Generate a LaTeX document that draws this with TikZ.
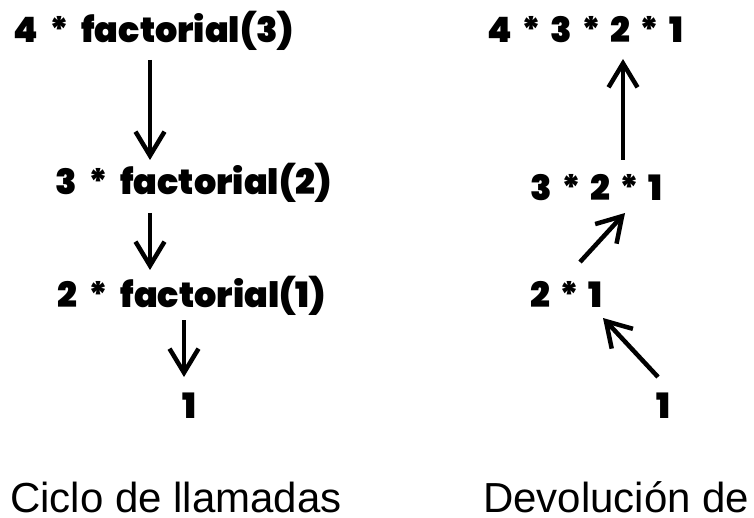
\documentclass[tikz,border=0pt]{standalone}
\usepackage{fontspec}
\setmainfont{Liberation Sans}
\newfontfamily\heavy{Poppins}[UprightFont={* Black}]
\newcommand\hvfont{\heavy\fontsize{35}{35}\selectfont\spaceskip=12pt\relax}
\newcommand\hvwidefont{\heavy\fontsize{35}{35}\selectfont\spaceskip=9.5pt\relax}
\usetikzlibrary{arrows.meta}
\tikzset{
  expr/.style={inner sep=0pt, anchor=base west, font=\hvfont},
  wideexpr/.style={inner sep=0pt, anchor=base west, font=\hvwidefont},
  caption/.style={inner sep=0pt, anchor=base west, text depth=0pt, font=\fontsize{42}{42}\selectfont},
  arr/.style={line width=4.5pt, -{Straight Barb[length=24pt,width=29pt,line width=4.5pt]}}
}
\begin{document}
\begin{tikzpicture}[x=1pt,y=-1pt]
\useasboundingbox (0,0) rectangle (754,518);
\clip (0,0) rectangle (754,518);
% left column
\node[expr] (T1) at (13,43) {4 * factorial(3)};
\node[expr] (T2) at (55,195) {3 * factorial(2)};
\node[expr] (T3) at (57,308) {2 * factorial(1)};
\node[expr] (L4) at (182,418) {1};
% right column
\node[wideexpr] (R1) at (487,43) {4 * 3 * 2 * 1};
\node[wideexpr] (R2) at (530,201) {3 * 2 * 1};
\node[wideexpr] (R3) at (530,308) {2 * 1};
\node[wideexpr] (R4) at (656,418) {1};
% captions
\node[caption] (C1) at (10,512) {Ciclo de llamadas};
\node[caption] (C2) at (483,512) {Devolución de};
% arrows left
\draw[arr] ([shift={(137,17)}]T1.base west) -- ([shift={(95,-35)}]T2.base west);
\draw[arr] ([shift={(95,18)}]T2.base west) -- ([shift={(93,-38)}]T3.base west);
\draw[arr] ([shift={(127,12)}]T3.base west) -- ([shift={(2,-41)}]L4.base west);
% arrows right
\draw[arr] ([shift={(93,-41)}]R2.base west) -- ([shift={(136,16)}]R1.base west);
\draw[arr] ([shift={(50,-46)}]R3.base west) -- ([shift={(95,12)}]R2.base west);
\draw[arr] ([shift={(2,-41)}]R4.base west) -- ([shift={(73,10)}]R3.base west);
\end{tikzpicture}
\end{document}
